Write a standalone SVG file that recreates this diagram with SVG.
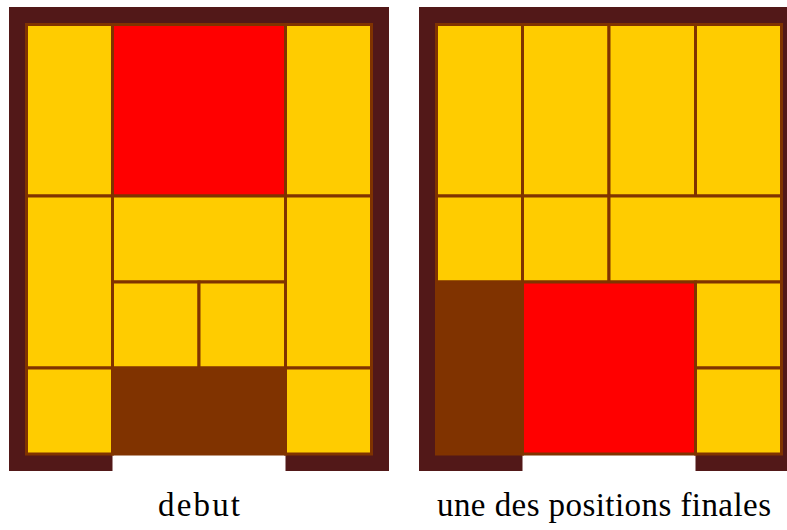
<svg xmlns="http://www.w3.org/2000/svg" width="787" height="530" viewBox="0 0 787 530">
  <style>
    .frame { fill: #521818; }
    .cell { stroke: #803300; stroke-width: 3; }
    .y { fill: #ffcc00; }
    .r { fill: #ff0000; }
    .e { fill: #803300; }
    .cap { font-family: "Liberation Serif", "Times New Roman", serif; font-size: 33px; fill: #000; }
  </style>

  <!-- Starting position -->
  <g id="board-start">
    <path class="frame" d="M9,7 H389 V471 H285.5 V454 H112.5 V471 H9 Z"/>
    <g id="start-pieces">
      <rect id="s-v1" class="cell y" x="26.5" y="24.5" width="86" height="171.5"/>
      <rect id="s-big" class="cell r" x="112.5" y="24.5" width="173" height="171.5"/>
      <rect id="s-v2" class="cell y" x="285.5" y="24.5" width="86" height="171.5"/>
      <rect id="s-v3" class="cell y" x="26.5" y="196" width="86" height="172"/>
      <rect id="s-h" class="cell y" x="112.5" y="196" width="173" height="86"/>
      <rect id="s-v4" class="cell y" x="285.5" y="196" width="86" height="172"/>
      <rect id="s-c1" class="cell y" x="112.5" y="282" width="86.5" height="86"/>
      <rect id="s-c2" class="cell y" x="199" y="282" width="86.5" height="86"/>
      <rect id="s-c3" class="cell y" x="26.5" y="368" width="86" height="86"/>
      <rect id="s-empty" class="cell e" x="112.5" y="368" width="173" height="86"/>
      <rect id="s-c4" class="cell y" x="285.5" y="368" width="86" height="86"/>
    </g>
  </g>

  <!-- One of the final positions -->
  <g id="board-final">
    <path class="frame" d="M419,7 H799 V471 H695.5 V454 H522.5 V471 H419 Z"/>
    <g id="final-pieces">
      <rect id="f-v1" class="cell y" x="436.5" y="24.5" width="86" height="171.5"/>
      <rect id="f-v2" class="cell y" x="522.5" y="24.5" width="86.5" height="171.5"/>
      <rect id="f-v3" class="cell y" x="609" y="24.5" width="86.5" height="171.5"/>
      <rect id="f-v4" class="cell y" x="695.5" y="24.5" width="86" height="171.5"/>
      <rect id="f-c1" class="cell y" x="436.5" y="196" width="86" height="86"/>
      <rect id="f-c2" class="cell y" x="522.5" y="196" width="86.5" height="86"/>
      <rect id="f-h" class="cell y" x="609" y="196" width="172.5" height="86"/>
      <rect id="f-empty" class="cell e" x="436.5" y="282" width="86" height="172"/>
      <rect id="f-big" class="cell r" x="522.5" y="282" width="173" height="172"/>
      <rect id="f-c3" class="cell y" x="695.5" y="282" width="86" height="86"/>
      <rect id="f-c4" class="cell y" x="695.5" y="368" width="86" height="86"/>
    </g>
  </g>

  <text class="cap" x="158" y="516" textLength="82" lengthAdjust="spacing">debut</text>
  <text class="cap" x="437" y="516" textLength="334" lengthAdjust="spacing">une des positions finales</text>
</svg>
